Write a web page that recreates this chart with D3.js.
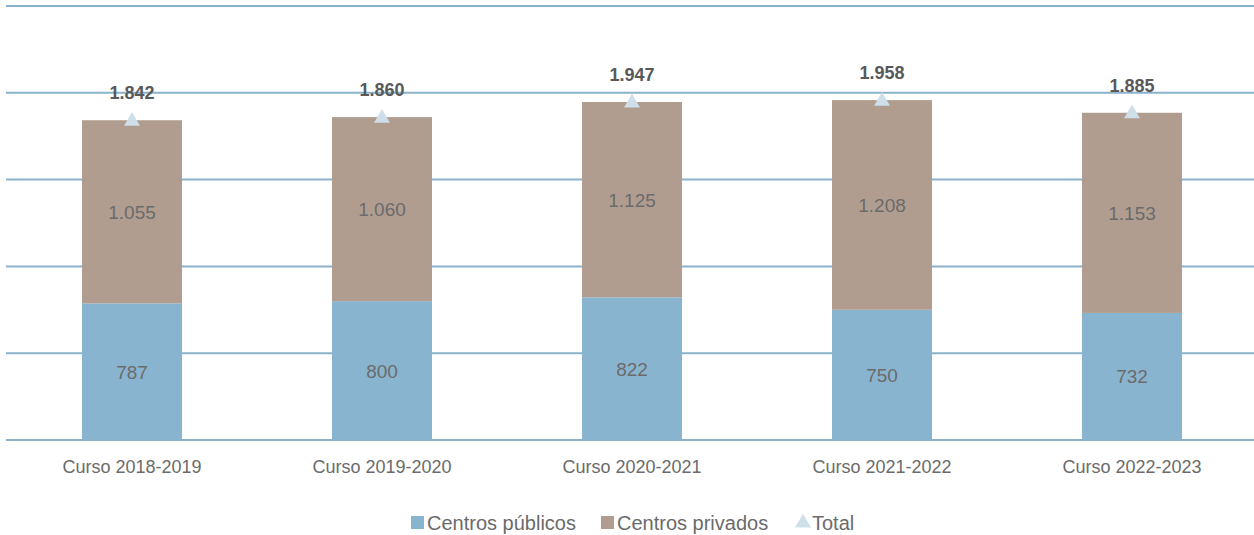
<!DOCTYPE html>
<html><head><meta charset="utf-8">
<script src="https://cdn.jsdelivr.net/npm/d3@7"></script>
<style>body{margin:0;background:#fff}svg{display:block}text{font-family:"Liberation Sans Narrow","Arial Narrow","Liberation Sans",sans-serif}</style>
</head><body><svg id="c" width="1254" height="535"></svg>
<script>
const categories = ["Curso 2018-2019","Curso 2019-2020","Curso 2020-2021","Curso 2021-2022","Curso 2022-2023"];
const publicos = [787, 800, 822, 750, 732];
const privados = [1055, 1060, 1125, 1208, 1153];
const totals = [1842, 1860, 1947, 1958, 1885];
const yTicks = [0, 500, 1000, 1500, 2000, 2500];
const seriesNames = ["Centros públicos", "Centros privados", "Total"];
const colors = {pub:"#89b4cf", priv:"#b09d90", tot:"#cfdfea", grid:"#8ab3cb", text:"#6b6b6b", bold:"#595959"};

const svg = d3.select("#c");
const x = d3.scaleBand().domain(categories).range([7, 1257]).paddingInner(0.6).paddingOuter(0.3);
const y = d3.scaleLinear().domain([0, 2500]).range([440, 6]);
const fmt = v => d3.format(",")(v).replace(/,/g, ".");

svg.append("g").selectAll("line").data(yTicks).join("line")
  .attr("x1", 6).attr("x2", 1254).attr("y1", d => y(d)).attr("y2", d => y(d))
  .attr("stroke", colors.grid).attr("stroke-width", 2);

const g = svg.append("g");
categories.forEach((c, i) => {
  const x0 = x(c), w = x.bandwidth();
  g.append("rect").attr("x", x0).attr("width", w).attr("y", y(publicos[i])).attr("height", y(0) - y(publicos[i])).attr("fill", colors.pub);
  g.append("rect").attr("x", x0).attr("width", w).attr("y", y(totals[i])).attr("height", y(publicos[i]) - y(totals[i])).attr("fill", colors.priv);
  g.append("text").attr("x", x0 + w/2).attr("y", (y(0) + y(publicos[i]))/2 + 7).attr("text-anchor","middle")
    .attr("font-size", 19).attr("fill", colors.text).text(fmt(publicos[i]));
  g.append("text").attr("x", x0 + w/2).attr("y", (y(publicos[i]) + y(totals[i]))/2 + 7).attr("text-anchor","middle")
    .attr("font-size", 19).attr("fill", colors.text).text(fmt(privados[i]));
});
svg.append("line").attr("x1", 6).attr("x2", 1254).attr("y1", y(0)).attr("y2", y(0)).attr("stroke", colors.grid).attr("stroke-width", 2);

const tri = d3.symbol().type(d3.symbolTriangle).size(110);
svg.append("g").selectAll("path").data(totals).join("path")
  .attr("d", tri).attr("transform", (d, i) => `translate(${x(categories[i]) + x.bandwidth()/2},${y(d) + 1})`)
  .attr("fill", colors.tot);
svg.append("g").selectAll("text").data(totals).join("text")
  .attr("x", (d, i) => x(categories[i]) + x.bandwidth()/2).attr("y", d => y(d) - 21)
  .attr("text-anchor","middle").attr("font-size", 18).attr("font-weight","bold").attr("fill", colors.bold)
  .text(d => fmt(d));

const xa = d3.axisBottom(x).tickSize(0).tickPadding(0);
const ax = svg.append("g").attr("transform", `translate(0,${y(0)})`).call(xa);
ax.select(".domain").remove();
ax.selectAll("text").attr("font-size", 18).attr("fill", colors.text).attr("dy", null).attr("y", 33)
  .style("font-family", '"Liberation Sans Narrow","Arial Narrow",sans-serif');

const leg = svg.append("g");
const items = [{n:seriesNames[0], c:colors.pub, t:"rect", x:411},{n:seriesNames[1], c:colors.priv, t:"rect", x:601},{n:seriesNames[2], c:colors.tot, t:"tri", x:796}];
items.forEach(it => {
  if (it.t === "rect") leg.append("rect").attr("x", it.x).attr("y", 516).attr("width", 13).attr("height", 13).attr("fill", it.c);
  else leg.append("path").attr("d", d3.symbol().type(d3.symbolTriangle).size(110)()).attr("transform", `translate(${it.x+7},${523})`).attr("fill", it.c);
  leg.append("text").attr("x", it.x + 16).attr("y", 530).attr("font-size", 20).attr("fill", colors.text).text(it.n);
});
</script></body></html>
